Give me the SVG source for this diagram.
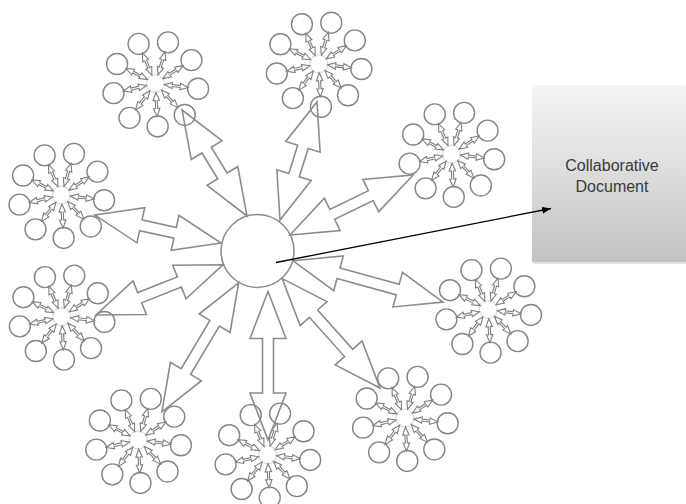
<svg xmlns="http://www.w3.org/2000/svg" xmlns:xlink="http://www.w3.org/1999/xlink" width="686" height="504" viewBox="0 0 686 504">
<style>
.ring{fill:none;stroke:#858585;stroke-width:1.4}
.spk{fill:none;stroke:#7e7e7e;stroke-width:1.1;stroke-linejoin:miter}
.hubc{fill:none;stroke:#b4b4b4;stroke-width:0.6}
.big{fill:none;stroke:#8c8c8c;stroke-width:1.6;stroke-linejoin:miter}
.lbl{font-family:"Liberation Sans",Arial,sans-serif;font-size:16px;fill:#3a3a3a;text-anchor:middle}
</style>
<defs>
<linearGradient id="docg" x1="0" y1="0" x2="0" y2="1">
<stop offset="0" stop-color="#f5f5f5"/>
<stop offset="1" stop-color="#c3c3c3"/>
</linearGradient>
<marker id="ah" markerUnits="userSpaceOnUse" markerWidth="9" markerHeight="7" refX="9" refY="3.5" orient="auto">
<path d="M0,0 L9,3.5 L0,7 Z" fill="#000"/>
</marker>
<path id="sp" class="spk" d="M9,0 L17,-3.2 L17,-1 L25,-1 L25,-3.2 L33,0 L25,3.2 L25,1 L17,1 L17,3.2 Z"/>
<g id="cl">
<circle class="hubc" r="9"/>
<use xlink:href="#sp" transform="rotate(-113)"/>
<use xlink:href="#sp" transform="rotate(-73)"/>
<use xlink:href="#sp" transform="rotate(-33)"/>
<use xlink:href="#sp" transform="rotate(7)"/>
<use xlink:href="#sp" transform="rotate(47)"/>
<use xlink:href="#sp" transform="rotate(87)"/>
<use xlink:href="#sp" transform="rotate(127)"/>
<use xlink:href="#sp" transform="rotate(167)"/>
<use xlink:href="#sp" transform="rotate(207)"/>
<circle class="ring" cx="-16.80" cy="-39.58" r="10.5"/>
<circle class="ring" cx="12.57" cy="-41.12" r="10.5"/>
<circle class="ring" cx="36.06" cy="-23.42" r="10.5"/>
<circle class="ring" cx="42.68" cy="5.24" r="10.5"/>
<circle class="ring" cx="29.33" cy="31.45" r="10.5"/>
<circle class="ring" cx="2.25" cy="42.94" r="10.5"/>
<circle class="ring" cx="-25.88" cy="34.34" r="10.5"/>
<circle class="ring" cx="-41.90" cy="9.67" r="10.5"/>
<circle class="ring" cx="-38.31" cy="-19.52" r="10.5"/>
</g>
</defs>
<rect width="686" height="504" fill="#fff"/>
<g id="document">
<rect x="533" y="87" width="156" height="177" fill="#e2e2e2"/>
<rect x="532" y="85" width="156" height="177" fill="url(#docg)"/>
<text class="lbl" x="612" y="171">Collaborative</text>
<text class="lbl" x="612" y="192">Document</text>
</g>
<g id="cluster-a" transform="translate(155.4,83.5)"><use xlink:href="#cl"/></g>
<g id="cluster-b" transform="translate(318.7,63.8)"><use xlink:href="#cl"/></g>
<g id="cluster-c" transform="translate(451.5,154)"><use xlink:href="#cl"/></g>
<g id="cluster-d" transform="translate(61.4,195)"><use xlink:href="#cl"/></g>
<g id="cluster-e" transform="translate(61.7,316.7)"><use xlink:href="#cl"/></g>
<g id="cluster-f" transform="translate(488.3,309.7)"><use xlink:href="#cl"/></g>
<g id="cluster-g" transform="translate(138.2,440)"><use xlink:href="#cl"/></g>
<g id="cluster-h" transform="translate(267.5,454.7)"><use xlink:href="#cl"/></g>
<g id="cluster-i" transform="translate(405,418)"><use xlink:href="#cl"/></g>
<g id="center">
<circle cx="257.5" cy="251" r="36.5" fill="#fff" stroke="#8c8c8c" stroke-width="1.5"/>
</g>
<g id="connectors">
<path class="big" transform="translate(247,216) rotate(-121.5)" d="M0,0 L47,-18 L47,-5.5 L77.3,-5.5 L77.3,-18 L124.3,0 L77.3,18 L77.3,5.5 L47,5.5 L47,18 Z"/>
<path class="big" transform="translate(280,220) rotate(-72.6)" d="M0,0 L47,-18 L47,-5.5 L76.7,-5.5 L76.7,-18 L123.7,0 L76.7,18 L76.7,5.5 L47,5.5 L47,18 Z"/>
<path class="big" transform="translate(290,235) rotate(-26)" d="M0,0 L47,-18 L47,-5.5 L89.9,-5.5 L89.9,-18 L136.9,0 L89.9,18 L89.9,5.5 L47,5.5 L47,18 Z"/>
<path class="big" transform="translate(221,243) rotate(-167.5)" d="M0,0 L47,-18 L47,-5.5 L82.1,-5.5 L82.1,-18 L129.1,0 L82.1,18 L82.1,5.5 L47,5.5 L47,18 Z"/>
<path class="big" transform="translate(223.1,264.7) rotate(158.4)" d="M0,0 L47,-18 L47,-5.5 L89.7,-5.5 L89.7,-18 L136.7,0 L89.7,18 L89.7,5.5 L47,5.5 L47,18 Z"/>
<path class="big" transform="translate(293.2,260.8) rotate(15.4)" d="M0,0 L47,-18 L47,-5.5 L108.4,-5.5 L108.4,-18 L155.4,0 L108.4,18 L108.4,5.5 L47,5.5 L47,18 Z"/>
<path class="big" transform="translate(238.6,282.8) rotate(120.7)" d="M0,0 L47,-18 L47,-5.5 L103.2,-5.5 L103.2,-18 L150.2,0 L103.2,18 L103.2,5.5 L47,5.5 L47,18 Z"/>
<path class="big" transform="translate(268,291.5) rotate(90)" d="M0,0 L47,-18 L47,-5.5 L101.5,-5.5 L101.5,-18 L148.5,0 L101.5,18 L101.5,5.5 L47,5.5 L47,18 Z"/>
<path class="big" transform="translate(282.2,278.6) rotate(48.2)" d="M0,0 L47,-18 L47,-5.5 L99.7,-5.5 L99.7,-18 L146.7,0 L99.7,18 L99.7,5.5 L47,5.5 L47,18 Z"/>
<line x1="276" y1="262.5" x2="551" y2="208.5" stroke="#000" stroke-width="1.3" marker-end="url(#ah)"/>
</g>
</svg>
